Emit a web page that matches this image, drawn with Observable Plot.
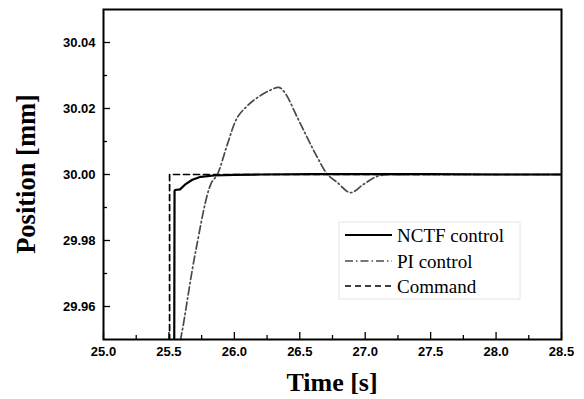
<!DOCTYPE html>
<html>
<head>
<meta charset="utf-8">
<script src="https://cdn.jsdelivr.net/npm/d3@7"></script>
<script src="https://cdn.jsdelivr.net/npm/@observablehq/plot@0.6"></script>
<style>
  html, body { margin: 0; padding: 0; background: #fff; }
  #chart { width: 584px; height: 399px; }
  .serif-text { font-family: "Liberation Serif", "Times New Roman", serif !important; }
</style>
</head>
<body>
<div id="chart"></div>
<script>
// ---- data ----
const seriesNames = ["NCTF control", "PI control", "Command"];

const cmdTime = [25.0, 25.505, 25.505, 28.5];
const cmdPos  = [29.90, 29.90, 30.000, 30.000];

const ncTime = [25.0, 25.538, 25.543, 25.547, 25.585, 25.628, 25.679, 25.743, 25.844, 26.0, 26.2, 26.6, 27.0, 27.5, 28.0, 28.5];
const ncPos  = [29.90, 29.90, 29.9950, 29.9953, 29.9955, 29.9971, 29.9984, 29.9993, 29.9997, 29.9999, 30.0000, 30.0001, 30.0001, 30.0001, 30.0000, 30.0000];

const piTime = [25.575, 25.59, 25.611, 25.705, 25.82, 25.87, 25.947, 26.023, 26.099, 26.176, 26.277, 26.341, 26.392, 26.481, 26.557, 26.634, 26.71, 26.786, 26.888, 26.99, 27.104, 27.3, 27.6, 28.0, 28.5];
const piPos  = [29.945, 29.950, 29.9547, 29.9769, 29.9971, 30.0000, 30.0092, 30.0173, 30.0208, 30.0233, 30.0256, 30.0264, 30.0244, 30.0173, 30.0112, 30.0052, 30.0001, 29.9976, 29.9945, 29.9971, 29.9996, 30.0000, 30.0000, 30.0000, 30.0000];

const xTicks = [25.0, 25.5, 26.0, 26.5, 27.0, 27.5, 28.0, 28.5];
const xMinor = [25.25, 25.75, 26.25, 26.75, 27.25, 27.75, 28.25];
const yTicks = [29.96, 29.98, 30.00, 30.02, 30.04];
const yMinor = [29.97, 29.99, 30.01, 30.03];

const xDomain = [25.0, 28.5];
const yDomain = [29.95, 30.05];

// ---- build tables ----
const cmd = cmdTime.map((t, i) => ({t, v: cmdPos[i]}));
const nc = ncTime.map((t, i) => ({t, v: ncPos[i]}));
const pi = piTime.map((t, i) => ({t, v: piPos[i]}));

const W = 584, H = 399;
const mL = 103, mR = 23, mT = 9, mB = 60;
const fw = W - mL - mR, fh = H - mT - mB;
const major = 7, minor = 4;
const piColor = "#4a4a4a";

const chart = Plot.plot({
  width: W,
  height: H,
  marginLeft: mL,
  marginRight: mR,
  marginTop: mT,
  marginBottom: mB,
  style: {background: "#fff", color: "#000", fontFamily: "'Liberation Sans', Arial, sans-serif", fontSize: "13px", fontWeight: "bold"},
  x: {domain: xDomain, label: null},
  y: {domain: yDomain, label: null},
  marks: [
    // inward ticks
    Plot.tickX(xTicks, {x: d => d, insetTop: fh - major, stroke: "#000", strokeWidth: 1.3}),
    Plot.tickX(xMinor, {x: d => d, insetTop: fh - minor, stroke: "#000", strokeWidth: 1.3}),
    Plot.tickY(yTicks, {y: d => d, insetRight: fw - major, stroke: "#000", strokeWidth: 1.3}),
    Plot.tickY(yMinor, {y: d => d, insetRight: fw - minor, stroke: "#000", strokeWidth: 1.3}),
    // tick labels
    Plot.axisX({ticks: xTicks, tickSize: 0, tickPadding: 7, tickFormat: d3.format(".1f"), label: null}),
    Plot.axisY({ticks: yTicks, tickSize: 0, tickPadding: 8, tickFormat: d3.format(".2f"), label: null}),
    Plot.line(cmd, {x: "t", y: "v", stroke: "#000", strokeWidth: 1.7, strokeDasharray: "6,4", clip: true}),
    Plot.line(pi, {x: "t", y: "v", stroke: piColor, strokeWidth: 1.7, strokeDasharray: "8,3,1.5,3", curve: "catmull-rom", clip: true}),
    Plot.line(nc, {x: "t", y: "v", stroke: "#000", strokeWidth: 2.2, clip: true}),
    Plot.frame({stroke: "#000", strokeWidth: 2})
  ]
});

document.getElementById("chart").appendChild(chart);

// ---- axis titles and legend ----
const svg = d3.select(chart);

svg.append("text")
  .attr("class", "serif-text")
  .attr("x", (mL + (W - mR)) / 2)
  .attr("y", 391)
  .attr("text-anchor", "middle")
  .style("font-weight", "bold")
  .style("font-size", "26px")
  .attr("fill", "#000")
  .text("Time [s]");

svg.append("text")
  .attr("class", "serif-text")
  .attr("transform", `translate(35,${(mT + (H - mB)) / 2}) rotate(-90)`)
  .attr("text-anchor", "middle")
  .style("font-weight", "bold")
  .style("font-size", "26.5px")
  .attr("fill", "#000")
  .text("Position [mm]");

const lg = svg.append("g");
lg.append("rect")
  .attr("x", 339).attr("y", 222).attr("width", 181).attr("height", 77)
  .attr("fill", "#fff").attr("stroke", "#e4e4e4").attr("stroke-width", 1);

const legendStyles = [
  {stroke: "#000", width: 2.2, dash: null},
  {stroke: piColor, width: 1.7, dash: "8,3,1.5,3"},
  {stroke: "#000", width: 1.7, dash: "6,4"}
];
const rowY = [235, 261, 286];
seriesNames.forEach((name, i) => {
  const s = legendStyles[i];
  const l = lg.append("line")
    .attr("x1", 345).attr("x2", 392)
    .attr("y1", rowY[i]).attr("y2", rowY[i])
    .attr("stroke", s.stroke).attr("stroke-width", s.width);
  if (s.dash) l.attr("stroke-dasharray", s.dash);
  lg.append("text")
    .attr("class", "serif-text")
    .attr("x", 397).attr("y", rowY[i] + 6.5)
    .attr("text-anchor", "start")
    .style("font-size", "19px")
    .style("font-weight", "normal")
    .attr("fill", "#000")
    .text(name);
});
</script>
</body>
</html>
